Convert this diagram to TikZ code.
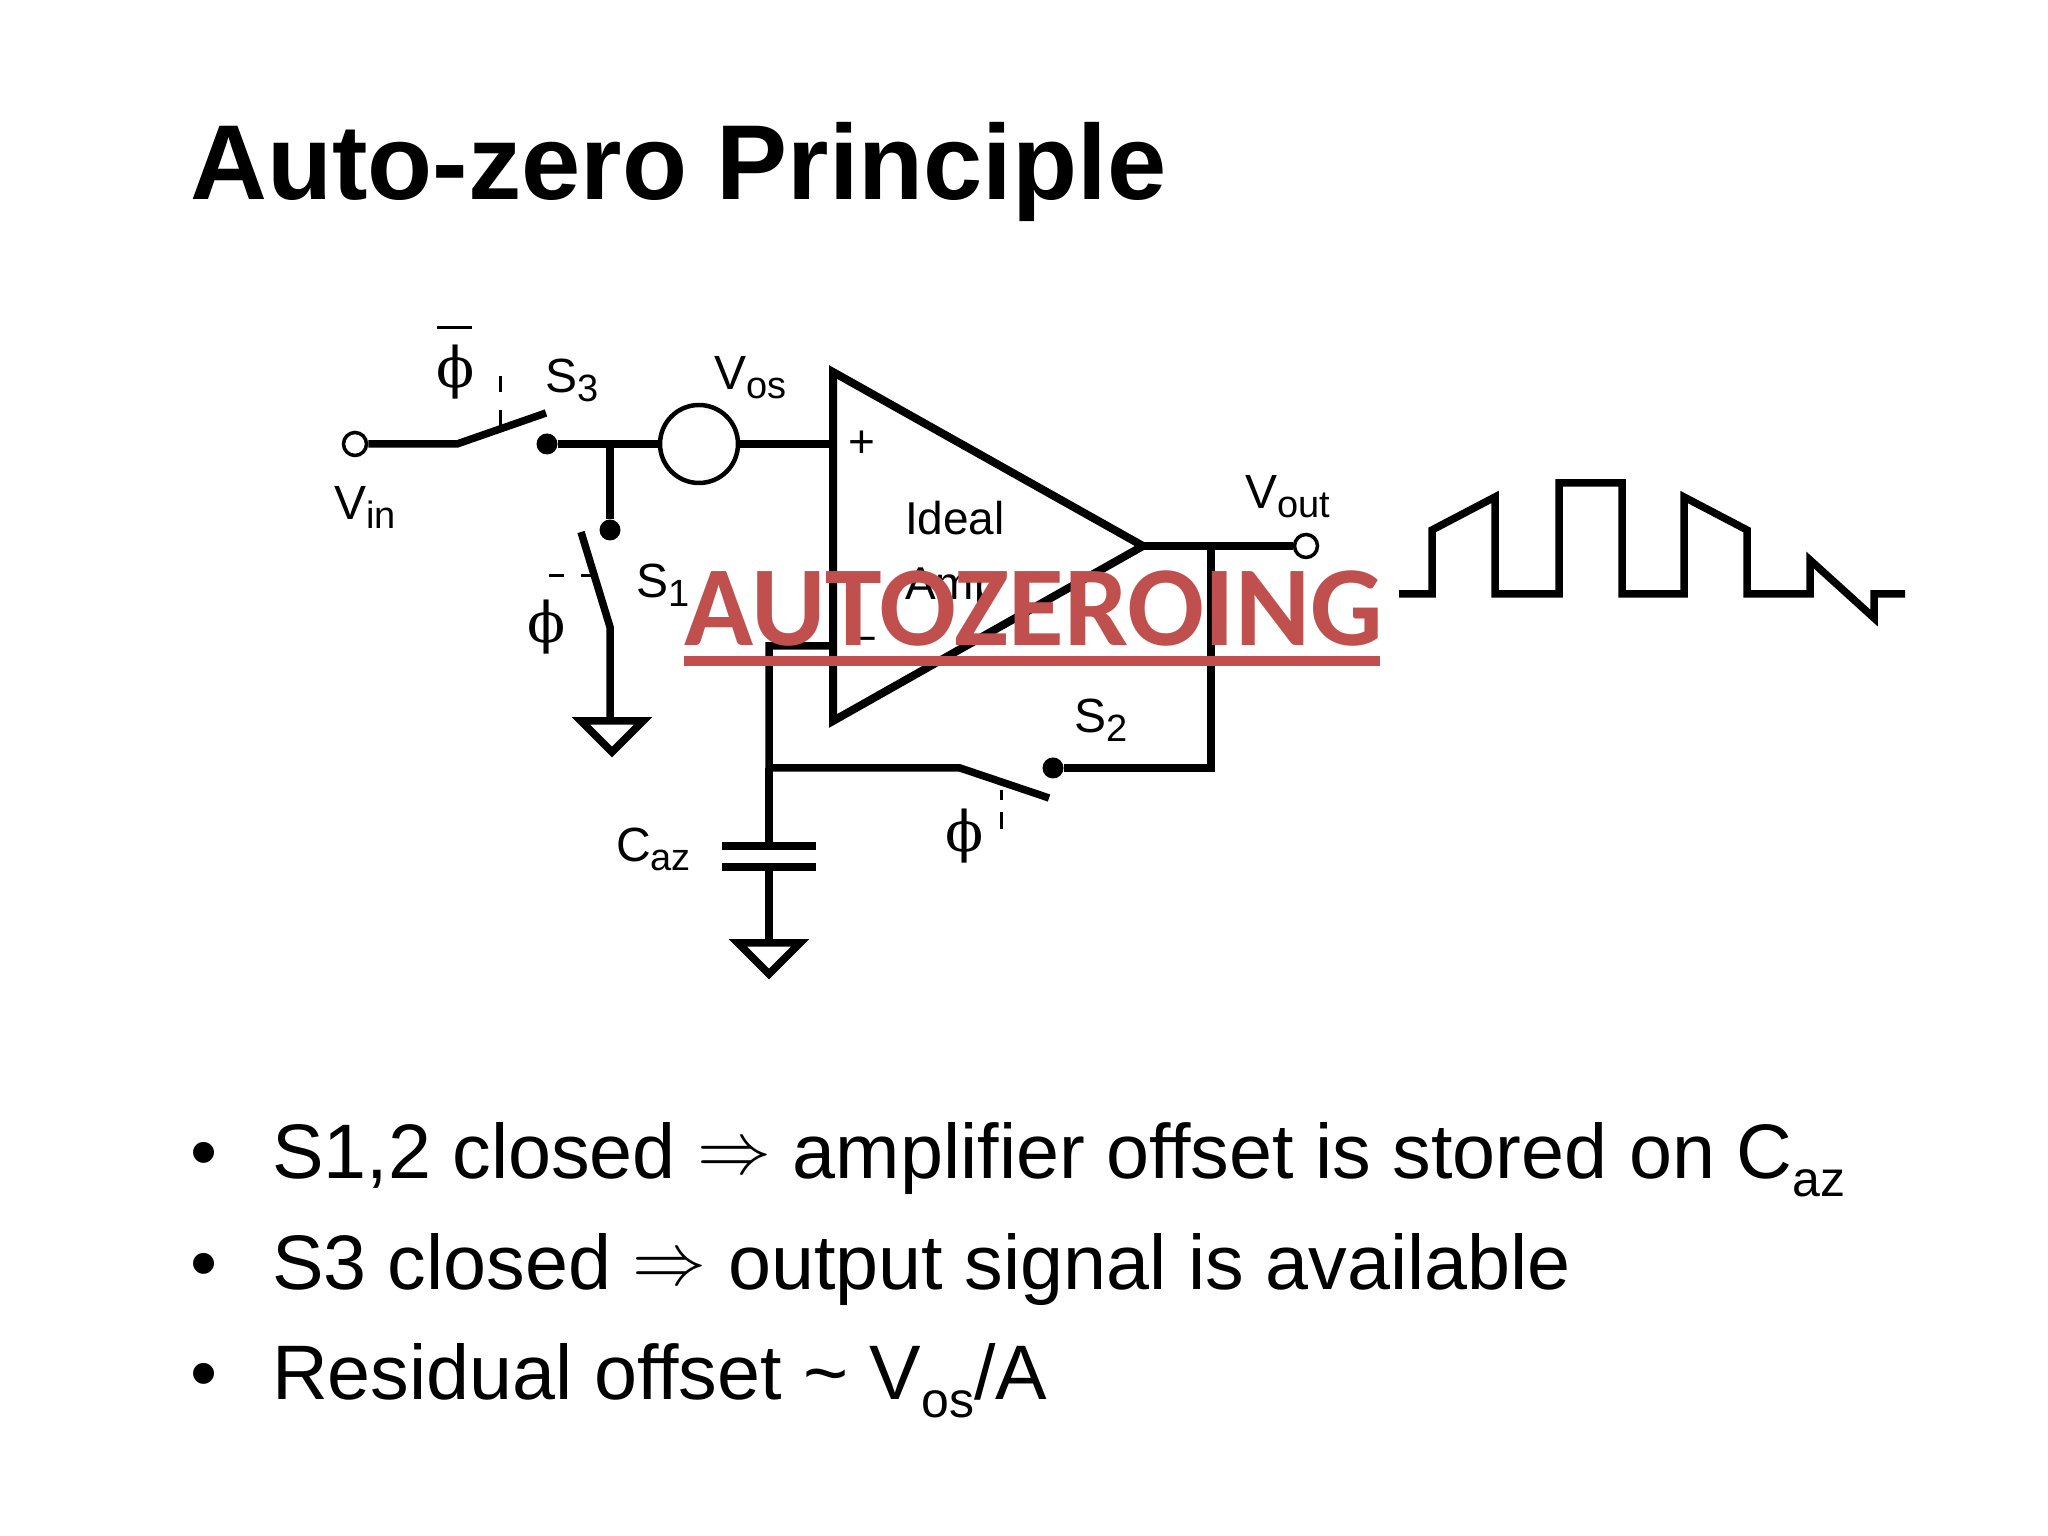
\documentclass[tikz,border=0pt]{standalone}
\usepackage{fontspec}
\setmainfont{Liberation Sans}
\newfontfamily\wmfont{Carlito}
\newfontfamily\phifont{DejaVu Serif}
\newcommand{\sizedtxt}[1]{\fontsize{#1}{#1}\selectfont}
\newcommand{\lowtxt}[1]{\raisebox{-9pt}{\sizedtxt{38}#1}}
\newcommand{\lowbig}[1]{\raisebox{-18pt}{\sizedtxt{50}#1}}
\newcommand{\impl}{\raisebox{5pt}{\scalebox{7.4}{\sizedtxt{10}$\Rightarrow$}}}
\tikzset{
  wire/.style={draw=black,line width=7.5pt,line join=miter},
  ctrl/.style={draw=black,line width=3pt},
  dotnode/.style={circle,fill=black,inner sep=0pt,minimum size=21pt},
  opennode/.style={circle,draw=black,line width=3.5pt,fill=white,inner sep=0pt,minimum size=23pt},
  srcnode/.style={circle,draw=black,line width=4.5pt,fill=white,inner sep=0pt,minimum size=78pt},
  lbl/.style={anchor=base west,inner sep=0pt,outer sep=0pt,font=\sizedtxt{48}},
  phinode/.style={inner sep=0pt,outer sep=0pt,font=\sizedtxt{56}\phifont},
  bodytxt/.style={anchor=base west,inner sep=0pt,outer sep=0pt,font=\sizedtxt{77.3}}
}
\begin{document}
\begin{tikzpicture}[x=1pt,y=1pt]
\definecolor{markColor}{RGB}{192,80,77}
\path[use as bounding box,fill=white] (0,0) rectangle (2048,1536);

% title and bullets
\node[anchor=base west,inner sep=0pt,font=\sizedtxt{106.5}\bfseries] (title) at (190,1336) {Auto-zero Principle};

\node[bodytxt] (bulA) at (190,357) {•};
\node[bodytxt] (bulB) at (190,246) {•};
\node[bodytxt] (bulC) at (190,136) {•};
\node[bodytxt] (txtA) at (272,357) {S1,2 closed \impl{} amplifier offset is stored on C\lowbig{az}};
\node[bodytxt] (txtB) at (272,246) {S3 closed \impl{} output signal is available};
\node[bodytxt] (txtC) at (272,136) {Residual offset \textasciitilde{} V\lowbig{os}/A};

% amplifier
\coordinate (ampT) at (833,1164);
\coordinate (ampB) at (833,815);
\coordinate (ampO) at (1143,990);
\coordinate (ampP) at (833,1092);
\coordinate (ampN) at (833,890);
\path[wire,line width=8pt] (ampT) -- (ampO) -- (ampB) -- cycle;

% input side
\node[opennode] (vin) at (355,1092) {};
\coordinate (hingeC) at (457,1092);
\coordinate (bladeC) at (546,1123);
\node[dotnode] (dotC) at (547,1092) {};
\coordinate (nodeA) at (610,1092);
\node[srcnode] (vos) at (699,1092) {};
\path[wire] (vin) -- (hingeC) -- (bladeC);
\path[wire] (dotC) -- (vos);
\path[wire] (vos) -- (ampP);

% switch to ground
\node[dotnode] (dotA) at (610,1006) {};
\coordinate (bladeA) at (581,1004);
\coordinate (hingeA) at (610,909);
\coordinate (gndA) at (610,815);
\path[wire] (nodeA) -- (dotA);
\path[wire] (bladeA) -- (hingeA) -- (gndA);
\path[wire] (581,815) -- (643,815) -- (612,784) -- cycle;

% feedback path
\coordinate (nodeB) at (769,768);
\coordinate (hingeB) at (960,768);
\coordinate (bladeB) at (1049,738);
\node[dotnode] (dotB) at (1053,768) {};
\coordinate (cornerA) at (1211,768);
\coordinate (nodeD) at (1211,990);
\node[opennode] (vout) at (1306,990) {};
\path[wire] (ampO) -- (vout);
\path[wire] (nodeD) -- (cornerA) -- (dotB);
\path[wire] (ampN) -- (769,890) -- (nodeB) -- (hingeB) -- (bladeB);

% hold capacitor
\coordinate (capT) at (769,690);
\coordinate (capB) at (769,669);
\coordinate (gndB) at (769,593);
\path[wire] (nodeB) -- (capT);
\path[wire] (capB) -- (gndB);
\path[wire] (722,690) -- (816,690);
\path[wire,line width=8.5pt] (722,669) -- (816,669);
\path[wire] (738,593) -- (800,593) -- (769,562) -- cycle;

% control dashes
\path[ctrl] (500,1160) -- (500,1144);
\path[ctrl] (500,1126) -- (500,1108);
\path[ctrl] (549,960) -- (564,960);
\path[ctrl] (581,960) -- (596,960);
\path[ctrl] (1001,746) -- (1001,736);
\path[ctrl] (1001,724) -- (1001,707);
\path[ctrl] (437,1208) -- (472,1208);

% labels
\node[phinode] (phiC) at (456,1164) {ϕ};
\node[phinode] (phiA) at (547,909) {ϕ};
\node[phinode] (phiB) at (965,700) {ϕ};
\node[lbl] (lblVin) at (334,1016) {V\lowtxt{in}};
\node[lbl] (lblS3) at (545,1143) {S\lowtxt{3}};
\node[lbl] (lblVos) at (714,1146) {V\lowtxt{os}};
\node[lbl] (lblS1) at (636,938) {S\lowtxt{1}};
\node[lbl] (lblS2) at (1074,803) {S\lowtxt{2}};
\node[lbl] (lblVout) at (1245,1027) {V\lowtxt{out}};
\node[lbl] (lblCaz) at (616,674) {C\lowtxt{az}};
\node[lbl,font=\sizedtxt{46}] (lblIdeal) at (905,1001) {Ideal};
\node[lbl,font=\sizedtxt{46}] (lblAmp) at (905,936) {Amp};
\node[inner sep=0pt,font=\sizedtxt{46}] (lblP) at (862,1092) {+};
\node[inner sep=0pt,font=\sizedtxt{46}] (lblN) at (862,892) {--};

% output wave
\path[draw=black,line width=7.5pt,line join=miter] (1399,942) -- (1432,942) -- (1432,1006) -- (1495,1039) --
	(1495,942) -- (1559,942) -- (1559,1053) -- (1622,1053) --
	(1622,942) -- (1684,942) -- (1684,1039) -- (1747,1006) --
	(1747,942) -- (1810,942) -- (1810,976) -- (1874,918) --
	(1874,942) -- (1905,942);

% overlay word
\node[anchor=base west,inner sep=0pt,text=markColor,font=\sizedtxt{114}\wmfont\bfseries] (mark) at (684,890) {AUTOZEROING};
\path[draw=markColor,line width=10pt] (684,875) -- (1380,875);
\end{tikzpicture}
\end{document}
